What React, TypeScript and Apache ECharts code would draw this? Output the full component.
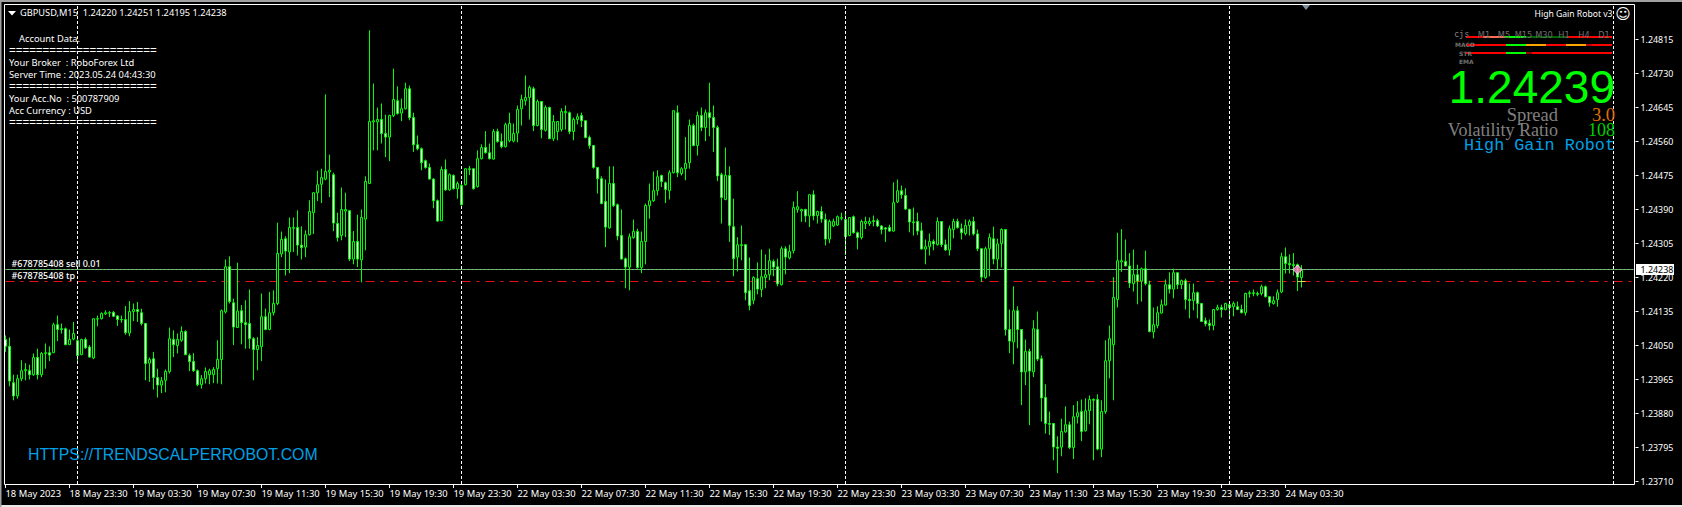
import React, { useEffect, useRef } from "react";
import * as echarts from "echarts";

const opens = [124065,124048,123957,123924,123967,123987,123987,123977,124020,123977,
124030,124032,124032,124102,124092,124092,124052,124066,124062,124027,
124065,124046,124019,124116,124117,124129,124132,124133,124124,124115,
124115,124081,124135,124140,124132,124105,124006,124017,123970,123951,
123963,123985,124065,124050,124063,124085,124025,124010,123987,123952,
123967,123977,123977,123992,124015,124134,124247,124157,124095,124137,
124107,124105,124067,124040,124047,124122,124090,124132,124155,124279,
124317,124284,124343,124345,124301,124296,124327,124382,124432,124453,
124466,124484,124477,124355,124325,124386,124387,124266,124310,124264,
124366,124455,124609,124609,124615,124580,124571,124625,124662,124631,
124642,124692,124620,124552,124542,124512,124495,124466,124412,124362,
124490,124439,124475,124442,124450,124452,124490,124492,124447,124517,
124545,124532,124516,124585,124560,124547,124562,124561,124581,124642,
124662,124670,124692,124600,124660,124588,124645,124567,124585,124590,
124632,124632,124585,124615,124625,124612,124570,124550,124495,124467,
124410,124344,124455,124402,124325,124267,124246,124320,124335,124245,
124310,124400,124412,124437,124475,124457,124437,124482,124632,124480,
124492,124507,124600,124550,124625,124595,124632,124620,124595,124477,
124415,124475,124347,124271,124300,124302,124187,124163,124217,124190,
124220,124227,124260,124247,124202,124292,124269,124287,124390,124386,
124390,124374,124427,124375,124385,124365,124316,124349,124351,124368,
124365,124325,124372,124332,124320,124355,124355,124362,124362,124349,
124344,124345,124336,124409,124437,124425,124390,124359,124360,124337,
124291,124297,124310,124302,124360,124302,124289,124340,124360,124342,
124330,124350,124360,124329,124292,124220,124292,124317,124266,124305,
124340,124090,124059,124137,124090,123984,124035,123984,124090,124017,
123920,123855,123855,123796,123796,123834,123852,123795,123872,123885,
123837,123887,123915,123915,123791,123885,124012,124052,124165,124259,
124260,124249,124205,124227,124211,124242,124202,124084,124100,124131,
124151,124202,124191,124232,124202,124212,124165,124162,124182,124155,
124112,124105,124100,124140,124145,124140,124152,124147,124147,124140,
124132,124180,124180,124180,124180,124197,124172,124155,124165,124184,
124272,124255,124252,124252,124220];

const closes = [124048,123961,123924,123967,123987,123990,123977,124020,123977,124030,
124032,124026,124102,124090,124090,124052,124065,124080,124025,124065,
124044,124021,124117,124117,124130,124132,124131,124123,124115,124114,
124082,124135,124140,124135,124105,124005,124015,123970,123951,123962,
123985,124067,124052,124065,124085,124027,124010,123987,123952,123967,
123985,123987,123990,124015,124137,124247,124160,124096,124136,124107,
124102,124067,124040,124050,124122,124090,124132,124155,124280,124315,
124286,124345,124345,124301,124295,124327,124385,124432,124452,124470,
124485,124488,124356,124320,124390,124390,124266,124310,124266,124370,
124460,124610,124612,124615,124580,124571,124625,124665,124630,124642,
124692,124620,124552,124542,124507,124495,124466,124412,124361,124490,
124439,124477,124442,124455,124402,124492,124492,124442,124517,124545,
124532,124517,124585,124560,124547,124602,124605,124580,124640,124665,
124670,124695,124600,124660,124590,124645,124567,124610,124610,124635,
124635,124585,124615,124622,124612,124570,124550,124495,124467,124405,
124346,124455,124400,124324,124266,124246,124322,124335,124245,124310,
124400,124412,124437,124472,124460,124440,124482,124637,124482,124492,
124505,124600,124550,124625,124595,124632,124620,124595,124474,124420,
124475,124350,124267,124302,124302,124182,124150,124220,124191,124222,
124227,124262,124246,124204,124292,124271,124285,124395,124397,124390,
124374,124427,124374,124385,124366,124316,124360,124360,124372,124370,
124322,124370,124332,124320,124360,124360,124360,124360,124349,124340,
124341,124336,124407,124437,124427,124391,124359,124357,124336,124291,
124297,124310,124304,124360,124302,124289,124342,124360,124345,124332,
124350,124360,124329,124292,124221,124292,124320,124266,124304,124340,
124090,124061,124137,124090,123984,124035,123986,124092,124016,123919,
123855,123853,123796,123793,123835,123852,123795,123872,123882,123835,
123887,123915,123913,123791,123885,124012,124067,124170,124262,124262,
124249,124206,124227,124211,124242,124205,124085,124102,124132,124152,
124202,124191,124232,124202,124212,124165,124162,124182,124155,124110,
124104,124100,124140,124145,124140,124155,124145,124155,124140,124132,
124180,124182,124182,124178,124197,124172,124157,124162,124182,124272,
124255,124252,124250,124221,124238];

const highs = [124075,124070,123977,123977,124013,124006,124002,124030,124042,124034,
124055,124048,124107,124125,124105,124095,124090,124109,124067,124067,
124070,124051,124117,124125,124133,124138,124136,124136,124126,124125,
124149,124161,124155,124159,124142,124106,124020,124034,123992,123971,
123990,124095,124088,124080,124098,124088,124030,124031,123990,123976,
123995,123992,123996,124063,124140,124265,124273,124167,124257,124151,
124163,124190,124071,124071,124180,124142,124184,124188,124357,124335,
124323,124370,124370,124388,124348,124338,124413,124432,124487,124492,
124678,124527,124482,124382,124445,124432,124387,124336,124377,124390,
124473,124838,124705,124645,124655,124627,124627,124742,124698,124667,
124707,124700,124632,124575,124545,124515,124505,124468,124415,124498,
124515,124480,124478,124460,124455,124492,124499,124492,124538,124553,
124586,124555,124591,124592,124580,124607,124632,124605,124650,124677,
124725,124700,124697,124665,124660,124650,124647,124626,124610,124643,
124650,124635,124620,124630,124632,124612,124575,124551,124495,124473,
124465,124498,124498,124405,124390,124270,124330,124365,124342,124335,
124405,124455,124485,124488,124477,124460,124488,124637,124650,124496,
124571,124615,124605,124635,124645,124640,124707,124650,124600,124482,
124545,124498,124417,124321,124350,124302,124270,124223,124258,124290,
124278,124292,124265,124267,124298,124298,124302,124410,124436,124392,
124392,124427,124438,124387,124398,124380,124365,124367,124375,124382,
124383,124371,124375,124335,124365,124372,124370,124375,124367,124351,
124346,124352,124458,124465,124450,124443,124392,124395,124382,124357,
124315,124330,124315,124370,124360,124315,124350,124367,124367,124355,
124365,124365,124372,124340,124292,124297,124330,124347,124317,124343,
124341,124140,124198,124148,124090,124065,124042,124113,124135,124025,
123953,123885,123855,123823,123867,123898,123860,123901,123911,123915,
123918,123925,123918,123928,123913,124063,124100,124221,124332,124341,
124315,124281,124290,124252,124245,124287,124212,124145,124148,124165,
124215,124233,124242,124232,124215,124217,124205,124205,124185,124155,
124120,124115,124140,124152,124152,124157,124155,124160,124160,124152,
124182,124187,124190,124185,124202,124200,124172,124173,124190,124282,
124295,124278,124281,124255,124251];

const lows = [124034,123948,123913,123917,123961,123963,123965,123974,123965,123971,
123992,124011,124031,124061,124080,124051,124051,124063,124009,124026,
124042,124020,124016,124098,124115,124126,124121,124121,124099,124107,
124077,124073,124111,124109,124100,123963,123959,123940,123920,123931,
123933,123980,124021,124030,124059,124026,123986,123984,123948,123942,
123955,123953,123956,123955,123953,124130,124155,124051,124094,124053,
124042,124042,123963,123988,124011,124088,124088,124125,124151,124271,
124225,124231,124284,124275,124265,124271,124325,124329,124411,124406,
124463,124421,124336,124310,124313,124321,124261,124253,124246,124208,
124288,124455,124538,124538,124555,124521,124511,124621,124627,124611,
124640,124613,124534,124538,124488,124492,124465,124393,124359,124361,
124437,124437,124440,124417,124400,124450,124476,124440,124445,124515,
124530,124515,124515,124557,124543,124545,124558,124558,124558,124600,
124650,124615,124586,124598,124568,124585,124566,124561,124563,124585,
124590,124578,124563,124603,124596,124568,124542,124492,124430,124403,
124296,124342,124396,124313,124265,124193,124188,124317,124242,124231,
124253,124367,124409,124425,124446,124406,124415,124480,124471,124475,
124463,124492,124548,124525,124586,124561,124573,124534,124461,124355,
124413,124309,124223,124235,124263,124163,124138,124153,124178,124171,
124193,124213,124223,124198,124200,124228,124265,124280,124382,124359,
124358,124346,124363,124355,124357,124300,124306,124346,124349,124363,
124276,124323,124330,124290,124315,124341,124349,124348,124346,124328,
124309,124334,124335,124406,124417,124389,124333,124325,124326,124290,
124253,124275,124288,124300,124296,124286,124275,124318,124342,124315,
124325,124325,124325,124286,124209,124217,124223,124253,124240,124245,
124075,124031,124003,124043,123901,123951,123851,123971,124011,123860,
123830,123826,123763,123731,123773,123832,123791,123766,123855,123811,
123835,123853,123763,123788,123771,123879,123968,123913,124145,124234,
124248,124194,124185,124153,124160,124200,124083,124068,124093,124130,
124150,124180,124168,124191,124191,124140,124118,124138,124118,124109,
124098,124088,124088,124137,124120,124138,124115,124123,124138,124130,
124125,124170,124173,124173,124175,124170,124147,124152,124147,124181,
124230,124230,124225,124186,124195];

const priceTicks = [1.24815,1.2473,1.24645,1.2456,1.24475,1.2439,1.24305,1.2422,1.24135,1.2405,1.23965,1.2388,1.23795,1.2371];
const timeTicks = ["18 May 2023","18 May 23:30","19 May 03:30","19 May 07:30","19 May 11:30","19 May 15:30","19 May 19:30","19 May 23:30","22 May 03:30","22 May 07:30","22 May 11:30","22 May 15:30","22 May 19:30","22 May 23:30","23 May 03:30","23 May 07:30","23 May 11:30","23 May 15:30","23 May 19:30","23 May 23:30","24 May 03:30"];
const daySeparators = [18, 114, 210, 306, 402];
const tpPrice = 1.2421;
const orderBar = 323;
const orderPrice = 1.2424;
const tpBar = 324;

const accountLines = [
  { t: "Account Data.", x: 19, y: 38 },
  { t: "======================", x: 9, y: 50 },
  { t: "Your Broker  : RoboForex Ltd", x: 9, y: 62 },
  { t: "Server Time : 2023.05.24 04:43:30", x: 9, y: 74 },
  { t: "======================", x: 9, y: 86 },
  { t: "Your Acc.No  : 500787909", x: 9, y: 98 },
  { t: "Acc Currency : USD", x: 9, y: 110 },
  { t: "======================", x: 9, y: 122 },
];

const tick = 16;
const slots = 408;
const categories = Array.from({ length: slots }, (_, i) => String(i));
const showTick = (i: number) => i % tick === 0 && i / tick < timeTicks.length;
const UI = '"Noto Sans", sans-serif';

const txt = (text: string, x: number, y: number, fill: string, font: string, align = "left") => ({
  type: "text", x, y, z: 50, silent: true,
  style: { text, fill, font, textAlign: align, textVerticalAlign: "middle" },
});
const bar = (x: number, y: number, width: number, height: number, fill: string, z = 49) => ({
  type: "rect", z, silent: true, shape: { x, y, width, height }, style: { fill },
});
const level = (price: number, color: string, type: any) => ({
  type: "line", z: 1, silent: true, showSymbol: false, symbol: "none",
  data: [[0, price], [slots - 1, price]],
  lineStyle: { color, width: 1, type },
});

export default function App() {
  const ref = useRef<HTMLDivElement>(null);
  useEffect(() => {
    document.body.style.margin = "0";
    document.body.style.background = "#000";
    const chart = echarts.init(ref.current!, undefined, { renderer: "svg" });
    const row = (y: number, parts: [number, number, string][]) =>
      parts.map(([a, b, c]) => bar(1440 + a / 3, y, (b - a) / 3, 2, c));
    chart.setOption({
      animation: false,
      backgroundColor: "#000",
      grid: { left: 3.5, top: 4, width: 1632, height: 480, containLabel: false },
      xAxis: {
        type: "category", data: categories, boundaryGap: true,
        axisLine: { show: false },
        axisTick: { show: true, alignWithLabel: true, interval: (i: number) => showTick(i), length: 4, lineStyle: { color: "#fff" } },
        axisLabel: {
          interval: (i: number) => showTick(i), color: "#fff", fontFamily: "Noto Sans", fontSize: 9.4, align: "left", margin: 5,
          formatter: (_: string, i: number) => timeTicks[i / tick] ?? "",
        },
        splitLine: { show: false },
      },
      yAxis: {
        type: "value", position: "right", min: 1.2370375, max: 1.2490375, scale: true,
        axisLine: { show: false },
        axisTick: { show: true, length: 3, customValues: priceTicks, lineStyle: { color: "#fff" } },
        axisLabel: { color: "#fff", fontFamily: "Noto Sans", fontSize: 8.9, margin: 5, customValues: priceTicks, formatter: (v: number) => v.toFixed(5) },
        splitLine: { show: false },
      },
      series: [
        level(orderPrice, "#a8a8b8", "solid"),
        level(orderPrice, "#30c030", [2, 2]),
        level(tpPrice, "#e81010", [9, 6, 3, 6]),
        {
          type: "candlestick", z: 3, barWidth: 2, clip: true,
          data: opens.map((o, i) => [o / 1e5, closes[i] / 1e5, lows[i] / 1e5, highs[i] / 1e5]),
          itemStyle: { color: "#000", color0: "#fff", borderColor: "#00ff00", borderColor0: "#00ff00", borderColorDoji: "#00ff00", borderWidth: 1 },
        },
        {
          type: "line", data: [], silent: true, z: 4,
          markLine: {
            silent: true, symbol: "none", z: 4, label: { show: false }, animation: false,
            lineStyle: { color: "#fff", width: 1, type: [3, 2] },
            data: daySeparators.map((d) => ({ xAxis: d })),
          },
        },
        {
          type: "scatter", z: 6, silent: true, symbol: "diamond", symbolSize: 9,
          itemStyle: { color: "#ff70c0", borderColor: "#fff", borderWidth: 1 },
          data: [[orderBar, orderPrice]],
        },
        {
          type: "scatter", z: 6, silent: true, symbol: "rect", symbolSize: [8, 1],
          itemStyle: { color: "#ffff60" },
          data: [[tpBar, tpPrice]],
        },
      ],
      graphic: [
        bar(0, 0, 1682, 2, "#a0a0a0", 60),
        bar(0, 505, 1682, 2, "#e8e8e8", 60),
        bar(0, 0, 1.5, 507, "#a0a0a0", 60),
        { type: "rect", z: 45, silent: true, shape: { x: 4.5, y: 4.5, width: 1630, height: 480 }, style: { fill: "none", stroke: "#fff", lineWidth: 1 } },
        { type: "polygon", z: 50, silent: true, shape: { points: [[8, 11], [16, 11], [12, 15.5]] }, style: { fill: "#fff" } },
        { type: "polygon", z: 50, silent: true, shape: { points: [[1302, 5], [1310, 5], [1306, 10]] }, style: { fill: "#7f8f9f" } },
        txt("GBPUSD,M15  1.24220 1.24251 1.24195 1.24238", 20, 12.5, "#fff", `9.24px ${UI}`),
        ...accountLines.map((l) => txt(l.t, l.x, l.y, "#fff", l.t.startsWith("=") ? `11.5px "Liberation Sans"` : `9.33px ${UI}`)),
        txt("#678785408 sell 0.01", 11.5, 263.5, "#fff", `500 9px ${UI}`),
        txt("#678785408 tp", 11.5, 275.5, "#fff", `500 9px ${UI}`),
        txt("HTTPS://TRENDSCALPERROBOT.COM", 28, 454, "#00a0e6", `15.85px "Liberation Sans"`),
        txt("High Gain Robot v3", 1612.5, 13.5, "#fff", `8.6px ${UI}`, "right"),
        txt("☺", 1623, 13.5, "#fff", `15px "DejaVu Sans"`, "center"),
        txt("cjs", 1454, 34, "#808080", `8.5px "DejaVu Sans Mono"`),
        ...([["M1", 1484], ["M5", 1504], ["M15", 1523.5], ["M30", 1544], ["H1", 1564], ["H4", 1584], ["D1", 1604]] as [string, number][]).map(([t, x]) =>
          txt(t, x, 34.5, "#707070", `8.2px "DejaVu Sans"`, "center")),
        txt("MACD", 1455, 44.5, "#707070", `bold 6px "DejaVu Sans"`),
        txt("STR", 1459, 53, "#707070", `bold 6px "DejaVu Sans"`),
        txt("EMA", 1459, 61, "#707070", `bold 6px "DejaVu Sans"`),
        ...row(36, [[78, 130, "#ff0000"], [130, 195, "#ff7050"], [195, 258, "#00ff00"], [258, 380, "#006400"], [380, 516, "#ff0000"]]),
        ...row(44, [[78, 198, "#ff0000"], [198, 258, "#00ff00"], [258, 318, "#ffa500"], [318, 378, "#ff0000"], [378, 438, "#ffa500"], [438, 456, "#c00000"], [456, 516, "#ff0000"]]),
        ...row(52, [[78, 198, "#ff0000"], [198, 258, "#00ff00"], [258, 276, "#a00000"], [276, 516, "#ff0000"]]),
        txt("1.24239", 1615, 87, "#00ff00", `46px "Liberation Sans"`, "right"),
        txt("Spread", 1558, 115, "#808080", `18.5px "Liberation Serif"`, "right"),
        txt("3.0", 1615, 115, "#e07000", `18.5px "Liberation Serif"`, "right"),
        txt("Volatility Ratio", 1558, 130, "#808080", `18px "Liberation Serif"`, "right"),
        txt("108", 1615, 130, "#00d000", `18px "Liberation Serif"`, "right"),
        txt("High Gain Robot", 1615, 145, "#00a0e6", `16.8px "Liberation Mono"`, "right"),
        bar(1636, 264, 38, 11, "#fff", 55),
        { ...txt("1.24238", 1640.5, 269.5, "#000", `8.9px ${UI}`), z: 56 },
      ],
    });
    return () => chart.dispose();
  }, []);
  return <div ref={ref} style={{ position: "absolute", left: 0, top: 0, width: 1682, height: 507 }} />;
}
